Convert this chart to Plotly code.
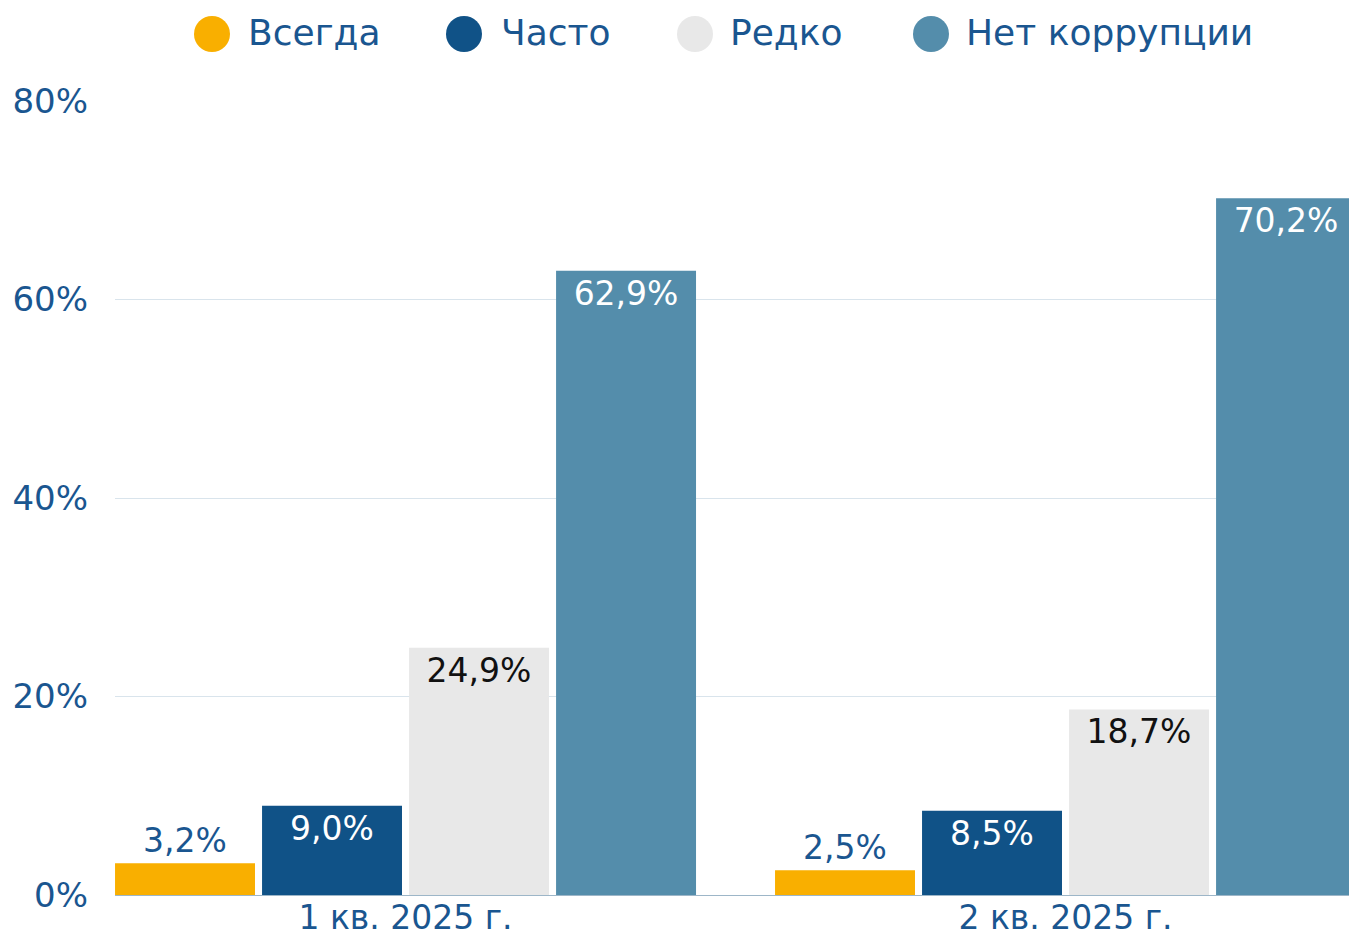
import plotly.graph_objects as go

categories = ["1 кв. 2025 г.", "2 кв. 2025 г."]
series_names = ["Всегда", "Часто", "Редко", "Нет коррупции"]
always = [3.2, 2.5]
often = [9.0, 8.5]
rarely = [24.9, 18.7]
no_corruption = [62.9, 70.2]
y_ticks = [0, 20, 40, 60, 80]
y_tick_labels = ["0%", "20%", "40%", "60%", "80%"]

values = [always, often, rarely, no_corruption]
colors = ["#F9AF00", "#105287", "#E8E8E8", "#548DAB"]
label_colors = ["#1A5690", "#FFFFFF", "#111111", "#FFFFFF"]
positions = ["outside", "inside", "inside", "inside"]

FONT = "DejaVu Sans"
TXT = "#1A5690"
LBL = 33

fig = go.Figure()
for name, vals, col, lc, pos in zip(series_names, values, colors, label_colors, positions):
    fig.add_trace(go.Bar(
        x=categories, y=vals, name=name,
        marker=dict(color=col, line=dict(width=0)),
        text=[f"{v:.1f}".replace(".", ",") + "%" for v in vals],
        textposition=pos, insidetextanchor="end", textangle=0,
        textfont=dict(family=FONT, size=LBL, color=lc),
        outsidetextfont=dict(family=FONT, size=LBL, color=lc),
        insidetextfont=dict(family=FONT, size=LBL, color=lc),
        cliponaxis=False, showlegend=False,
    ))

W, H = 1349, 942
L, R, T, B = 115, 0, 101, 47
pw, ph = W - L - R, H - T - B
def px(x): return (x - L) / pw
def py(y): return (H - B - y) / ph

leg_cx = [212, 464, 695, 931]
leg_tx = [246, 499, 728, 964]
shapes, annotations = [], []
for name, col, cx, tx in zip(series_names, colors, leg_cx, leg_tx):
    shapes.append(dict(type="circle", xref="paper", yref="paper",
                       x0=px(cx - 18), x1=px(cx + 18), y0=py(34 + 18), y1=py(34 - 18),
                       fillcolor=col, line=dict(width=0)))
    annotations.append(dict(xref="paper", yref="paper", x=px(tx), y=py(32),
                            xanchor="left", yanchor="middle", text=name, showarrow=False,
                            font=dict(family=FONT, size=36, color=TXT)))

fig.update_layout(
    width=W, height=H,
    margin=dict(l=L, r=R, t=T, b=B),
    paper_bgcolor="white", plot_bgcolor="white",
    barmode="group", bargap=0.109, bargroupgap=0.048,
    shapes=shapes, annotations=annotations,
    font=dict(family=FONT, color=TXT),
    xaxis=dict(range=[-0.4402, 1.4295], showgrid=False, showline=False,
               tickfont=dict(family=FONT, size=33, color=TXT), ticks="",
               ticklabelstandoff=0),
    yaxis=dict(range=[0, 80], tickmode="array", tickvals=y_ticks, ticktext=y_tick_labels,
               gridcolor="#D9E4EC", gridwidth=1, zeroline=True, zerolinecolor="#9DB6C8",
               zerolinewidth=1, showline=False,
               tickfont=dict(family=FONT, size=34, color=TXT), ticklabelstandoff=26),
)

fig.write_html("out.html", config={"displayModeBar": False},
               post_script="document.body.style.margin='0px';document.body.style.overflow='hidden';")
